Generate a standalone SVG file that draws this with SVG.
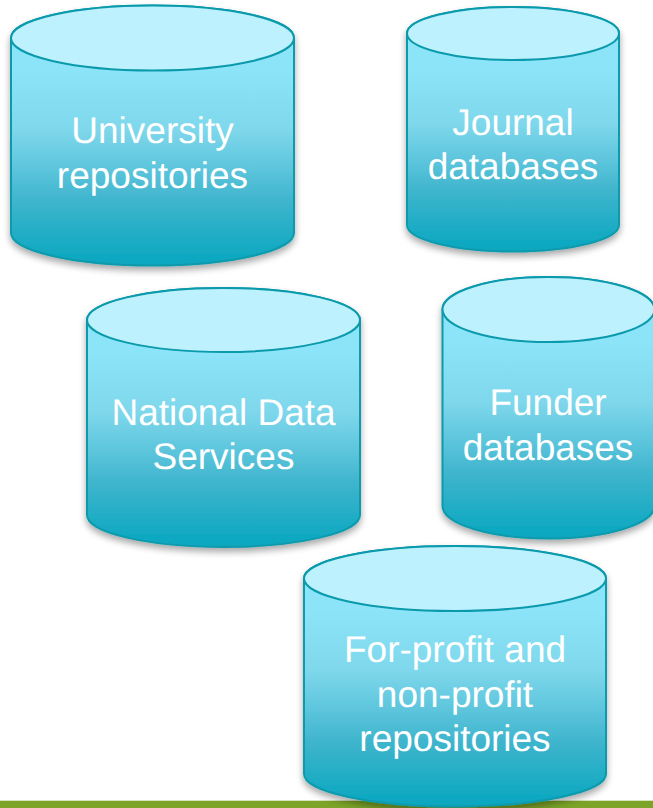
<svg xmlns="http://www.w3.org/2000/svg" width="653" height="808" viewBox="0 0 653 808">
<style>
.body{fill:url(#bodyGrad);stroke:#0b9aac;stroke-width:2}
.lid{fill:#bdf1fd;stroke:#0b9aac;stroke-width:2}
.shade{filter:url(#shadow)}
text{font-family:"Liberation Sans",Arial,sans-serif;font-size:37px;fill:#fff;text-anchor:middle;text-rendering:geometricPrecision}
</style>
<defs>
<linearGradient id="bodyGrad" x1="0" y1="0" x2="0" y2="1">
<stop offset="0.25" stop-color="#8ce4f9"/>
<stop offset="0.48" stop-color="#7ed7eb"/>
<stop offset="0.63" stop-color="#5cc5dc"/>
<stop offset="0.75" stop-color="#3fb5cd"/>
<stop offset="1" stop-color="#07a6bf"/>
</linearGradient>
<filter id="shadow" x="-10%" y="-10%" width="120%" height="125%">
<feGaussianBlur in="SourceAlpha" stdDeviation="3.500"/>
<feOffset dy="4"/>
<feComponentTransfer><feFuncA type="linear" slope="0.35"/></feComponentTransfer>
<feMerge><feMergeNode/><feMergeNode in="SourceGraphic"/></feMerge>
</filter>
</defs>
<rect id="footer-bar" x="0" y="800.700" width="653" height="7.300" fill="#7ba428"/>
<g id="university-repositories">
<path class="body shade" d="M11 38A141.500 32.500 0 0 1 294 38V233A141.500 32.500 0 0 1 11 233Z"/>
<ellipse class="lid" cx="152.500" cy="38" rx="141.500" ry="32.500"/>
<text x="152.500" y="143">University</text>
<text x="152.500" y="188">repositories</text>
</g>
<g id="journal-databases">
<path class="body shade" d="M407 33.500A106 26.500 0 0 1 619 33.500V225A106 26.500 0 0 1 407 225Z"/>
<ellipse class="lid" cx="513" cy="33.500" rx="106" ry="26.500"/>
<text x="513" y="135">Journal</text>
<text x="513" y="179">databases</text>
</g>
<g id="national-data-services">
<path class="body shade" d="M87 320A136.500 32 0 0 1 360 320V515A136.500 32 0 0 1 87 515Z"/>
<ellipse class="lid" cx="223.500" cy="320" rx="136.500" ry="32"/>
<text x="223.500" y="425">National Data</text>
<text x="223.500" y="469">Services</text>
</g>
<g id="funder-databases">
<path class="body shade" d="M442.500 309.500A106 32.500 0 0 1 654.500 309.500V506A106 32.500 0 0 1 442.500 506Z"/>
<ellipse class="lid" cx="548.500" cy="309.500" rx="106" ry="32.500"/>
<text x="548" y="415">Funder</text>
<text x="548" y="460">databases</text>
</g>
<g id="for-profit-repositories">
<path class="body shade" d="M304 578.500A151 32.500 0 0 1 606 578.500V774A151 32.500 0 0 1 304 774Z"/>
<ellipse class="lid" cx="455" cy="578.500" rx="151" ry="32.500"/>
<text x="455" y="662">For-profit and</text>
<text x="455" y="707">non-profit</text>
<text x="455" y="751">repositories</text>
</g>
<g id="connectors"/>
</svg>
